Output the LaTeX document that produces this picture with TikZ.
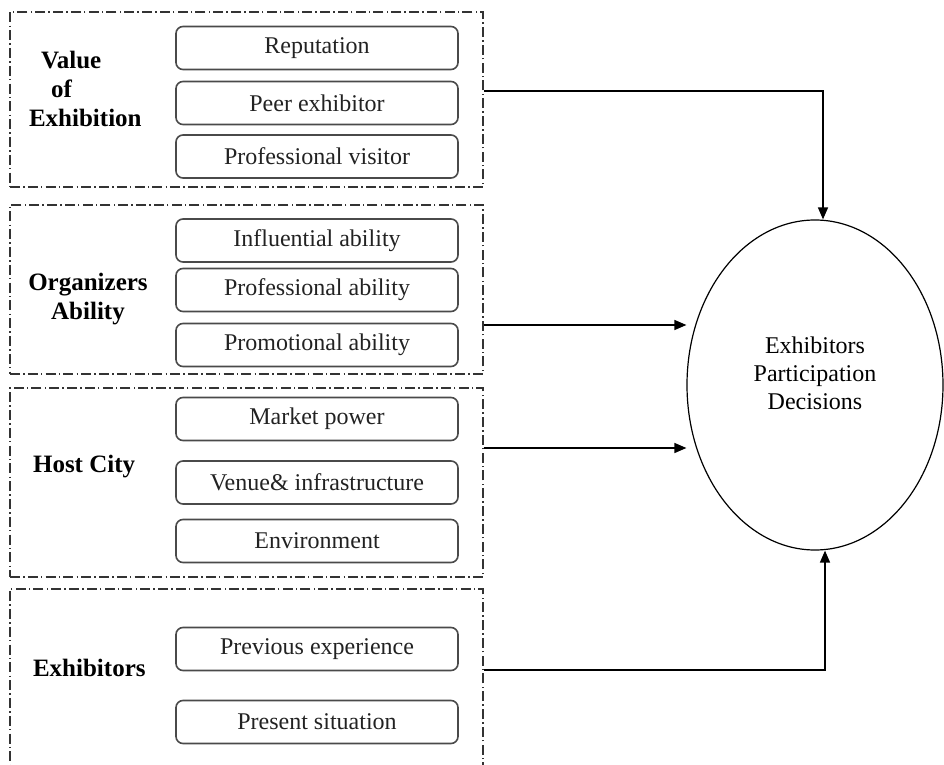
\documentclass[tikz,border=0pt]{standalone}
\usepackage{fontspec}
\setmainfont{Liberation Serif}
\usetikzlibrary{arrows.meta,positioning,shapes.geometric}
\definecolor{boxrule}  {HTML}{4A4A4A}
\definecolor{grouprule}{HTML}{333333}
\definecolor{itemtext} {HTML}{222222}

\begin{document}
\begin{tikzpicture}[x=0.5pt,y=-0.5pt,
  groupbox/.style={draw=grouprule, line width=0.6pt, inner sep=0pt,
                   dash pattern=on 5pt off 1.6pt on 0.7pt off 1.6pt,
                   minimum width=236.5pt},
  itembox/.style={draw=boxrule, rounded corners=3.5pt, line width=0.8pt,
                  minimum width=141pt, minimum height=21.5pt, inner sep=0pt,
                  text=itemtext, font=\fontsize{12}{14}\selectfont},
  grouplabel/.style={font=\fontsize{12.5}{14.5}\selectfont\bfseries},
  arr/.style={-{Triangle[length=6pt,width=5pt]}, line width=0.7pt}]
  \clip (0,0) rectangle (944,765);

  % factor groups
  \node[groupbox, minimum height=87.5pt] (value)     at (246.5,99.5)  {};
  \node[groupbox, minimum height=84.5pt] (organizer) at (246.5,289.5) {};
  \node[groupbox, minimum height=94.5pt] (city)      at (246.5,482.5) {};
  \node[groupbox, minimum height=95.5pt] (exhib)     at (246.5,684.5) {};

  \node[grouplabel, align=left, anchor=west] (valuelabel) at (22,89)
    {\hspace*{6pt}Value\\\hspace*{11pt}of\\Exhibition};
  \node[grouplabel, align=center] (organizerlabel) at (88,299) {Organizers\\Ability};
  \node[grouplabel, anchor=west] (citylabel)  at (26,467) {Host City};
  \node[grouplabel, anchor=west] (exhiblabel) at (26,668) {Exhibitors};

  % items
  \foreach \y/\name/\txt in {48/rep/Reputation, 103/peer/Peer exhibitor,
      156.5/visitor/Professional visitor, 240.5/influ/Influential ability,
      290/prof/Professional ability, 345/promo/Promotional ability,
      419/market/Market power, 482.5/venue/Venue\& infrastructure,
      541/env/Environment, 649/prev/Previous experience,
      722/present/Present situation}
    {\node[itembox] (\name) at (317,\y) {\txt};}

  % outcome
  \node[ellipse, draw, line width=0.6pt, minimum width=128pt,
        minimum height=165pt, inner sep=0pt] (dec) at (815,385) {};
  \node[align=center, font=\fontsize{12}{14}\selectfont] (dectext)
    at ([yshift=6pt]dec.center) {Exhibitors\\Participation\\Decisions};

  \draw[arr] (value.east |- 0,91) -| ([xshift=4pt]dec.north);
  \draw[arr] (organizer.east |- 0,325) -- (dec.west |- 0,325);
  \draw[arr] (city.east |- 0,448) -- (dec.west |- 0,448);
  \draw[arr] (exhib.east |- 0,670) -| ([xshift=5pt]dec.south);
\end{tikzpicture}
\end{document}
